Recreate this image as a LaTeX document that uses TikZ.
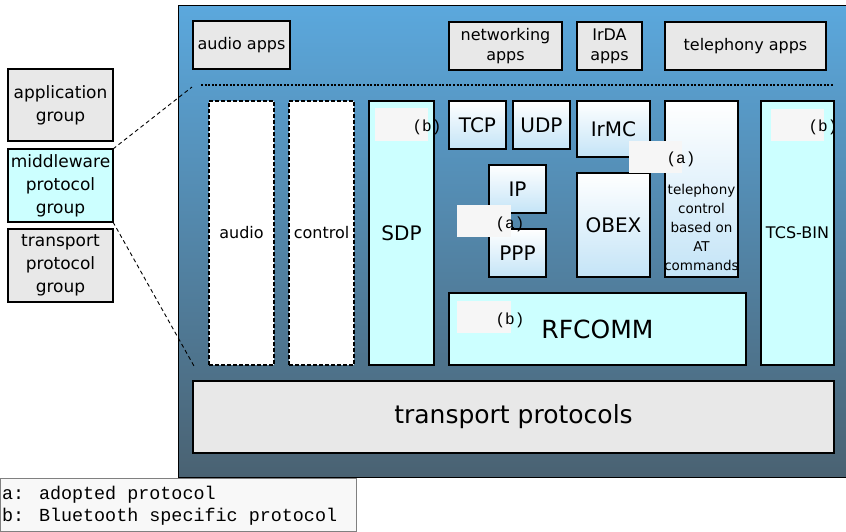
\documentclass[tikz,border=0pt]{standalone}
\usepackage{fontspec}
\setmainfont{DejaVu Sans}
\newfontfamily\monof{Liberation Mono}
\definecolor{panelTop}{RGB}{91,168,221}
\definecolor{panelBot}{RGB}{74,98,114}
\definecolor{cyanfill}{RGB}{204,255,255}
\definecolor{greyfill}{RGB}{232,232,232}
\definecolor{lightblue}{RGB}{196,228,247}
\definecolor{patchgrey}{RGB}{246,246,246}
\definecolor{legendfill}{RGB}{248,248,248}
\tikzset{
 blk/.style={draw=black, line width=1.3pt, inner sep=0pt, outer sep=0pt, anchor=north west, align=center, font=\fontsize{16}{20}\selectfont},
 greybox/.style={blk, fill=greyfill},
 cyanbox/.style={blk, fill=cyanfill},
 gradbox/.style={blk, top color=white, bottom color=lightblue},
 dashbox/.style={blk, fill=white, dash pattern=on 4pt off 2pt},
 groupbox/.style={font=\fontsize{17}{23}\selectfont},
 big/.style={font=\fontsize{20}{24}\selectfont},
 huge/.style={font=\fontsize{25}{30}\selectfont},
 patch/.style={fill=patchgrey, inner sep=0pt, outer sep=0pt, anchor=north west},
 lbl/.style={font=\monof\fontsize{16}{16}\selectfont, inner sep=0pt},
 connector/.style={draw=black, line width=0.9pt, dash pattern=on 4pt off 3pt},
}
\newcommand\mybox[7]{\node[#1,minimum width={#4-#2},minimum height={#5-#3}] (#6) at (#2,#3) {#7};}
\newcommand\mypatch[5]{\node[patch,minimum width={#3-#1},minimum height={#4-#2}] (#5) at (#1,#2) {};}
\begin{document}
\begin{tikzpicture}[x=1pt,y=-1pt]
\useasboundingbox (0,0) rectangle (846,531);
% panel
\node[draw=black, line width=1pt, top color=panelTop, bottom color=panelBot, anchor=north west, inner sep=0pt, outer sep=0pt, minimum width=668, minimum height=472] (panel) at (178,5) {};
% left group boxes
\mybox{greybox,groupbox}{8}{69}{113}{141}{appg}{application\\group}
\mybox{cyanbox,groupbox}{8}{149}{113}{222}{mwg}{middleware\\protocol\\group}
\mybox{greybox,groupbox}{8}{229}{113}{302}{tpg}{transport\\protocol\\group}
% apps row
\mybox{greybox}{193}{21}{290}{69}{audioapps}{audio apps}
\mybox{greybox}{449}{22}{562}{70}{netapps}{networking\\apps}
\mybox{greybox}{577}{22}{642}{70}{irdaapps}{IrDA\\apps}
\mybox{greybox}{665}{22}{826}{70}{telapps}{telephony apps}
% dotted separator
\coordinate (dotL) at (201,85);
\coordinate (dotR) at (834,85);
\draw[line width=2pt, dash pattern=on 2pt off 1.6pt] (dotL) -- (dotR);
% middleware
\mybox{dashbox}{209}{101}{274}{365}{audio}{audio}
\mybox{dashbox}{289}{101}{354}{365}{control}{control}
\mybox{cyanbox,big}{369}{101}{434}{365}{sdp}{SDP}
\mybox{gradbox,big}{449}{101}{506}{149}{tcp}{TCP}
\mybox{gradbox,big}{513}{101}{570}{149}{udp}{UDP}
\mybox{gradbox,big}{577}{101}{650}{157}{irmc}{IrMC}
\mybox{gradbox,big}{489}{165}{546}{213}{ip}{IP}
\mybox{gradbox,big}{489}{229}{546}{277}{ppp}{PPP}
\mybox{gradbox,big}{577}{173}{650}{277}{obex}{OBEX}
\mybox{gradbox}{665}{101}{738}{277}{telctl}{}
\node[align=center, inner sep=0pt, font=\fontsize{13.5}{19}\selectfont] (telctlT) at (701.5,227) {telephony\\control\\based on\\AT\\commands};
\mybox{cyanbox}{761}{101}{834}{365}{tcsbin}{TCS-BIN}
\mybox{cyanbox,huge}{449}{293}{746}{365}{rfcomm}{RFCOMM}
\mybox{greybox,huge}{193}{381}{834}{453}{transport}{transport protocols}
% patches and labels
\mypatch{375}{108}{428}{141}{p1}
\node[lbl] (l1) at (427,127) {(b)};
\mypatch{629}{141}{682}{173}{p2}
\node[lbl] (l2) at (681,159) {(a)};
\mypatch{457}{205}{511}{237}{p3}
\node[lbl] (l3) at (510,224) {(a)};
\mypatch{457}{301}{511}{333}{p4}
\node[lbl] (l4) at (510,320) {(b)};
\mypatch{771}{109}{824}{141}{p5}
\node[lbl] (l5) at (823,127) {(b)};
% connectors
\coordinate (zoomTop) at (192,87);
\coordinate (zoomBot) at (194,366);
\draw[connector] (mwg.north east) -- (zoomTop);
\draw[connector] (mwg.south east) -- (zoomBot);
% legend
\node[draw=gray, line width=0.8pt, fill=legendfill, anchor=north west, inner sep=0pt, outer sep=0pt, minimum width=356, minimum height=53] (legend) at (0,478) {};
\node[anchor=west, align=left, inner sep=0pt, font=\monof\fontsize{18.4}{22}\selectfont] (legendT) at (2,506) {a: adopted protocol\\b: Bluetooth specific protocol};
\end{tikzpicture}
\end{document}
